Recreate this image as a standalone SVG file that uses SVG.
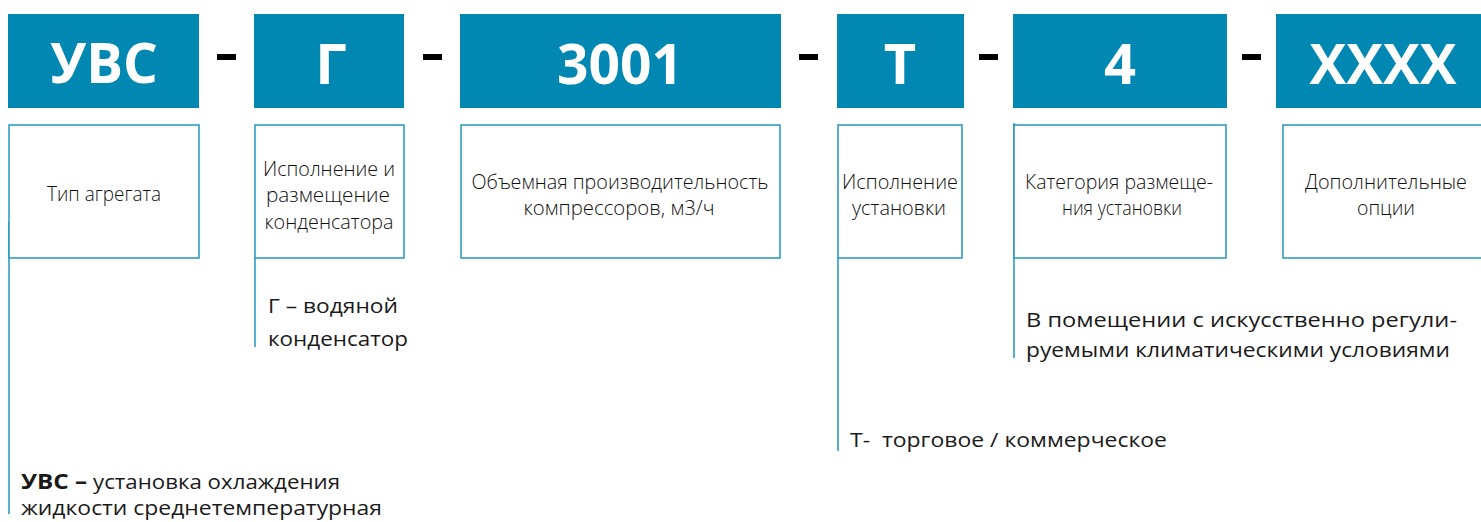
<svg xmlns="http://www.w3.org/2000/svg" width="1481" height="522" viewBox="0 0 1481 522">
<style>
.hdr{fill:#0088b2}
.hd{fill:#ffffff;font-family:"Open Sans","Noto Sans",sans-serif;font-weight:700;font-size:56px;text-anchor:middle}
.dash{fill:#000000}
.box{fill:#ffffff;stroke:#2596c3;stroke-width:1.5}
.lbl{fill:#111111;font-family:"Open Sans","Noto Sans",sans-serif;font-weight:300;font-size:20px;text-anchor:middle}
.note{fill:#1a1a1a;font-family:"Open Sans","Noto Sans",sans-serif;font-weight:400;font-size:20.5px}
.bold{font-weight:700}
.ln{stroke:#2596c3;stroke-width:1.5;fill:none}
</style>
<rect width="1481" height="522" fill="#ffffff"/>
<g id="connectors">
<line class="ln" x1="9" y1="222" x2="9" y2="514"/>
<line class="ln" x1="255" y1="258" x2="255" y2="347"/>
<line class="ln" x1="838" y1="258" x2="838" y2="451"/>
<line class="ln" x1="1014" y1="123" x2="1014" y2="358"/>
</g>
<g id="dashes">
<rect class="dash" x="217" y="54" width="19" height="6"/>
<rect class="dash" x="423" y="54" width="19" height="6"/>
<rect class="dash" x="799" y="54" width="19" height="6"/>
<rect class="dash" x="979" y="54" width="19" height="6"/>
<rect class="dash" x="1242" y="54" width="19" height="6"/>
</g>
<g id="code-uvs">
<rect class="hdr" x="8" y="14" width="191" height="94"/>
<text class="hd" x="104" y="83" textLength="108" lengthAdjust="spacingAndGlyphs">УВС</text>
</g>
<g id="code-g">
<rect class="hdr" x="254" y="14" width="150" height="94"/>
<text class="hd" x="331" y="84">Г</text>
</g>
<g id="code-3001">
<rect class="hdr" x="460" y="14" width="321" height="94"/>
<text class="hd" x="620" y="84" textLength="126" lengthAdjust="spacingAndGlyphs">3001</text>
</g>
<g id="code-t">
<rect class="hdr" x="837" y="14" width="127" height="94"/>
<text class="hd" x="900" y="84">Т</text>
</g>
<g id="code-4">
<rect class="hdr" x="1013" y="14" width="214" height="94"/>
<text class="hd" x="1120" y="84">4</text>
</g>
<g id="code-xxxx">
<rect class="hdr" x="1276" y="14" width="210" height="94"/>
<text class="hd" x="1383" y="84" textLength="147" lengthAdjust="spacingAndGlyphs">XXXX</text>
</g>
<g id="desc-type">
<rect class="box" x="9" y="125" width="190" height="133"/>
<text class="lbl" x="104" y="201" textLength="114" lengthAdjust="spacingAndGlyphs">Тип агрегата</text>
</g>
<g id="desc-condenser">
<rect class="box" x="255" y="125" width="149" height="133"/>
<text class="lbl" x="329" y="176" textLength="132" lengthAdjust="spacingAndGlyphs">Исполнение и</text>
<text class="lbl" x="328" y="202" textLength="124" lengthAdjust="spacingAndGlyphs">размещение</text>
<text class="lbl" x="329" y="229" textLength="129" lengthAdjust="spacingAndGlyphs">конденсатора</text>
</g>
<g id="desc-capacity">
<rect class="box" x="461" y="125" width="319" height="133"/>
<text class="lbl" x="620" y="189" textLength="297" lengthAdjust="spacingAndGlyphs">Объемная производительность</text>
<text class="lbl" x="619" y="215" textLength="191" lengthAdjust="spacingAndGlyphs">компрессоров, м3/ч</text>
</g>
<g id="desc-execution">
<rect class="box" x="838" y="125" width="124" height="133"/>
<text class="lbl" x="900" y="189" textLength="116" lengthAdjust="spacingAndGlyphs">Исполнение</text>
<text class="lbl" x="899" y="215" textLength="94" lengthAdjust="spacingAndGlyphs">установки</text>
</g>
<g id="desc-category">
<rect class="box" x="1014" y="125" width="212" height="133"/>
<text class="lbl" x="1119" y="189" textLength="188" lengthAdjust="spacingAndGlyphs">Категория размеще-</text>
<text class="lbl" x="1122" y="215" textLength="120" lengthAdjust="spacingAndGlyphs">ния установки</text>
</g>
<g id="desc-options">
<rect class="box" x="1283" y="125" width="205" height="133"/>
<text class="lbl" x="1386" y="189" textLength="162" lengthAdjust="spacingAndGlyphs">Дополнительные</text>
<text class="lbl" x="1386" y="215" textLength="58" lengthAdjust="spacingAndGlyphs">опции</text>
</g>
<g id="note-g">
<text class="note" x="268" y="313" textLength="130" lengthAdjust="spacingAndGlyphs">Г – водяной</text>
<text class="note" x="268" y="346" textLength="140" lengthAdjust="spacingAndGlyphs">конденсатор</text>
</g>
<g id="note-category">
<text class="note" x="1026" y="327" textLength="431" lengthAdjust="spacingAndGlyphs">В помещении с искусственно регули-</text>
<text class="note" x="1026" y="357" textLength="424" lengthAdjust="spacingAndGlyphs">руемыми климатическими условиями</text>
</g>
<g id="note-t">
<text class="note" x="850" y="447" textLength="317" lengthAdjust="spacingAndGlyphs">Т-&#160; торговое / коммерческое</text>
</g>
<g id="note-uvs">
<text class="note bold" x="21" y="489" textLength="66" lengthAdjust="spacingAndGlyphs">УВС –</text>
<text class="note" x="93" y="489" textLength="247" lengthAdjust="spacingAndGlyphs">установка охлаждения</text>
<text class="note" x="21" y="515" textLength="361" lengthAdjust="spacingAndGlyphs">жидкости среднетемпературная</text>
</g>
</svg>
